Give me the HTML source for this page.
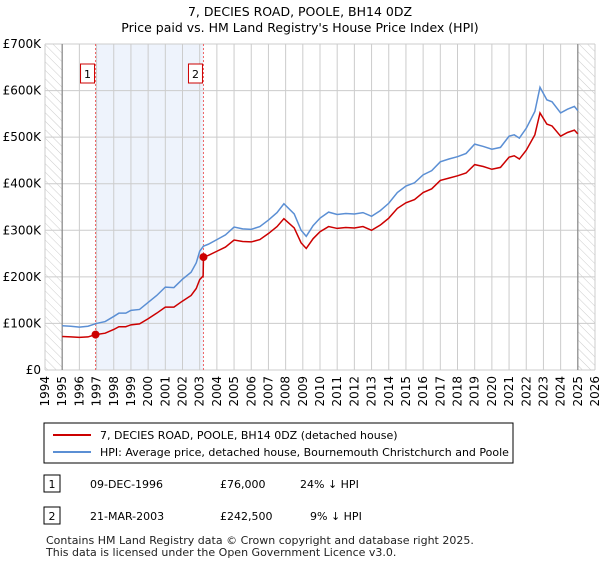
<!DOCTYPE html>
<html><head><meta charset="utf-8"><style>
body{margin:0;background:#fff;font-family:"Liberation Sans","DejaVu Sans",sans-serif;}
svg text{font-family:"DejaVu Sans","Liberation Sans",sans-serif;}
</style></head><body>
<svg id="c" width="600" height="560" viewBox="0 0 600 560">
<defs><pattern id="h" width="6" height="6" patternUnits="userSpaceOnUse" patternTransform="rotate(-45)"><rect width="6" height="6" fill="#fff"/><line x1="0" y1="0" x2="0" y2="6" stroke="#ccc" stroke-width="1"/></pattern></defs>
<text x="300" y="16" text-anchor="middle" font-size="12.5">7, DECIES ROAD, POOLE, BH14 0DZ</text>
<text x="300" y="32" text-anchor="middle" font-size="12.5">Price paid vs. HM Land Registry's House Price Index (HPI)</text>
<g id="plot"></g>
<rect x="44" y="423" width="469" height="40" fill="#fff" stroke="#000" stroke-width="1"/>
<line x1="53" y1="435" x2="91" y2="435" stroke="#cc0000" stroke-width="2"/>
<text x="100" y="439" font-size="11">7, DECIES ROAD, POOLE, BH14 0DZ (detached house)</text>
<line x1="53" y1="452" x2="91" y2="452" stroke="#5b8fd4" stroke-width="2"/>
<text x="100" y="456" font-size="11">HPI: Average price, detached house, Bournemouth Christchurch and Poole</text>
<g>
<rect x="44" y="475" width="16" height="17" fill="#fff" stroke="#000"/><text x="52" y="488" text-anchor="middle" font-size="11">1</text>
<text x="90" y="488" font-size="11">09-DEC-1996</text><text x="220" y="488" font-size="11">£76,000</text><text x="300" y="488" font-size="11">24% ↓ HPI</text></g>
<g>
<rect x="44" y="507" width="16" height="17" fill="#fff" stroke="#000"/><text x="52" y="520" text-anchor="middle" font-size="11">2</text>
<text x="90" y="520" font-size="11">21-MAR-2003</text><text x="220" y="520" font-size="11">£242,500</text><text x="310" y="520" font-size="11">9% ↓ HPI</text></g>
<text x="46" y="544" font-size="11" fill="#222">Contains HM Land Registry data © Crown copyright and database right 2025.</text>
<text x="46" y="556" font-size="11" fill="#222">This data is licensed under the Open Government Licence v3.0.</text>
</svg>
<script>
const hpiYears=[1995,1995.5,1996,1996.5,1997,1997.5,1998,1998.3,1998.7,1999,1999.5,2000,2000.5,2001,2001.5,2002,2002.5,2002.8,2003,2003.22,2003.5,2004,2004.5,2005,2005.5,2006,2006.5,2007,2007.5,2007.9,2008.5,2008.9,2009.2,2009.6,2010,2010.5,2011,2011.5,2012,2012.5,2013,2013.5,2014,2014.5,2015,2015.5,2016,2016.5,2017,2017.5,2018,2018.5,2019,2019.5,2020,2020.5,2021,2021.3,2021.6,2022,2022.5,2022.8,2023.2,2023.5,2024,2024.4,2024.8,2025];
const hpiValues=[95,94,92,94,100,104,115,122,122,128,130,145,160,178,177,195,210,230,255,266,270,280,290,307,303,302,308,322,338,357,335,300,287,310,326,339,334,336,335,338,330,342,358,381,395,402,419,428,447,453,458,465,485,480,474,478,502,505,498,519,555,607,580,576,552,560,566,557];
const priceYears=[1995,1995.5,1996,1996.5,1996.94,1997.5,1998,1998.3,1998.7,1999,1999.5,2000,2000.5,2001,2001.5,2002,2002.5,2002.8,2003,2003.2,2003.22,2003.5,2004,2004.5,2005,2005.5,2006,2006.5,2007,2007.5,2007.9,2008.5,2008.9,2009.2,2009.6,2010,2010.5,2011,2011.5,2012,2012.5,2013,2013.5,2014,2014.5,2015,2015.5,2016,2016.5,2017,2017.5,2018,2018.5,2019,2019.5,2020,2020.5,2021,2021.3,2021.6,2022,2022.5,2022.8,2023.2,2023.5,2024,2024.4,2024.8,2025];
const priceValues=[72,71,70,71,76,79,87,93,93,97,99,110,122,135,135,148,160,175,194,202,242.5,246,255,264,279,276,275,280,293,308,325,305,273,261,282,297,308,304,306,305,308,300,311,326,347,359,366,381,389,407,412,417,423,441,437,431,435,457,460,453,472,505,552,528,524,502,510,515,507];
const saleYears=[1996.94,2003.22];
const saleValues=[76,242.5];
const saleLabels=["1","2"];
const yTicks=[0,100,200,300,400,500,600,700];
const yTickLabels=["£0","£100K","£200K","£300K","£400K","£500K","£600K","£700K"];
const xTicks=[1994,1995,1996,1997,1998,1999,2000,2001,2002,2003,2004,2005,2006,2007,2008,2009,2010,2011,2012,2013,2014,2015,2016,2017,2018,2019,2020,2021,2022,2023,2024,2025,2026];

const L=45,R=595,T=44,B=370,x0=1994,x1=2026,yMax=700;
const X=v=>L+(v-x0)/(x1-x0)*(R-L);
const Y=v=>B-v/yMax*(B-T);
const NS='http://www.w3.org/2000/svg';
const g=document.getElementById('plot');
function mk(t,a,p){const e=document.createElementNS(NS,t);for(const k in a)e.setAttribute(k,a[k]);(p||g).appendChild(e);return e;}

let e=mk('rect',{x:X(saleYears[0]),y:T,width:X(saleYears[1])-X(saleYears[0]),height:B-T,fill:'#eef3fc'});


e=mk('rect',{x:L,y:T,width:X(1995)-L,height:B-T,fill:'url(#h)'});


e=mk('rect',{x:X(2025),y:T,width:R-X(2025),height:B-T,fill:'url(#h)'});


yTicks.forEach((v,i)=>{
  let l=mk('line',{x1:L,x2:R,y1:Y(v),y2:Y(v),stroke:'#ccc','stroke-width':1});
  
  
  let t=mk('text',{x:L-4,y:Y(v)+4,'text-anchor':'end','font-size':12});
  t.textContent=yTickLabels[i];
  
  
});
xTicks.forEach(v=>{
  let l=mk('line',{x1:X(v),x2:X(v),y1:T,y2:B,stroke:'#ccc','stroke-width':1});
  
  
  let t=mk('text',{x:0,y:0,'text-anchor':'end','font-size':12,transform:`translate(${X(v)+4},${B+6}) rotate(-90)`});
  t.textContent=v;
  
  
});
[1995,2025].forEach(v=>{let l=mk('line',{x1:X(v),x2:X(v),y1:T,y2:B,stroke:'#888','stroke-width':1.2});
  
  });
saleYears.forEach((v,i)=>{
  let l=mk('line',{x1:X(v),x2:X(v),y1:T,y2:B,stroke:'#e66','stroke-width':1,'stroke-dasharray':'2,2'});
  
  
  let r=mk('rect',{x:X(v)-15,y:64,width:14,height:19,fill:'#fff',stroke:'#cc0000','stroke-width':1});
  
  
  let t=mk('text',{x:X(v)-8,y:78,'text-anchor':'middle','font-size':11});
  t.textContent=saleLabels[i];
  
  
});
let p=mk('polyline',{points:hpiYears.map((v,i)=>X(v)+','+Y(hpiValues[i])).join(' '),fill:'none',stroke:'#5b8fd4','stroke-width':1.5});


p=mk('polyline',{points:priceYears.map((v,i)=>X(v)+','+Y(priceValues[i])).join(' '),fill:'none',stroke:'#cc0000','stroke-width':1.5});


saleYears.forEach((v,i)=>{
  let c=mk('circle',{cx:X(v),cy:Y(saleValues[i]),r:4,fill:'#cc0000'});
  
  
});
</script>
</body></html>
